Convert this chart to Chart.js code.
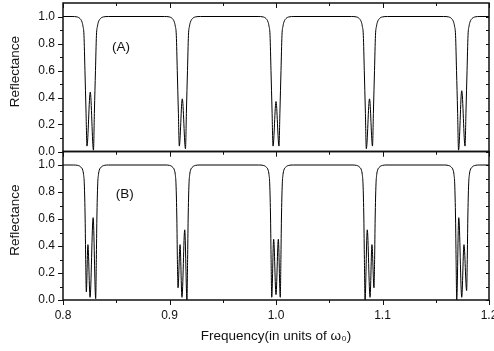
<!DOCTYPE html>
<html>
<head>
<meta charset="utf-8">
<title>Reflectance spectra</title>
<script src="https://cdn.jsdelivr.net/npm/chart.js@4.4.1/dist/chart.umd.min.js"></script>
<style>
  html, body { margin: 0; padding: 0; background: #fff; }
  #wrap { position: relative; width: 494px; height: 351px; }
</style>
</head>
<body>
<div id="wrap"><canvas id="reflChart"></canvas></div>
<script>
// Frequency (units of w0) and reflectance, one line per dip
const freqA = [
  0.8000,
  0.8085, 0.8131, 0.8159, 0.8178, 0.8187, 0.8197, 0.8206, 0.8216, 0.8225, 0.8256, 0.8286, 0.8295, 0.8305, 0.8314, 0.8324, 0.8333, 0.8352, 0.8380, 0.8426,
  0.8952, 0.8998, 0.9026, 0.9045, 0.9054, 0.9064, 0.9073, 0.9083, 0.9092, 0.9120, 0.9150, 0.9159, 0.9169, 0.9178, 0.9188, 0.9197, 0.9216, 0.9244, 0.9290,
  0.9832, 0.9878, 0.9906, 0.9925, 0.9934, 0.9944, 0.9953, 0.9963, 0.9972, 1.0000, 1.0028, 1.0037, 1.0047, 1.0056, 1.0066, 1.0075, 1.0094, 1.0122, 1.0168,
  1.0708, 1.0754, 1.0782, 1.0801, 1.0810, 1.0820, 1.0829, 1.0839, 1.0848, 1.0878, 1.0906, 1.0915, 1.0925, 1.0934, 1.0944, 1.0953, 1.0972, 1.1000, 1.1046,
  1.1574, 1.1620, 1.1648, 1.1667, 1.1676, 1.1686, 1.1695, 1.1705, 1.1714, 1.1744, 1.1775, 1.1784, 1.1794, 1.1803, 1.1813, 1.1822, 1.1841, 1.1869, 1.1915, 1.2000
];
const reflA = [
  1.0,
  1.0, 0.997, 0.985, 0.96, 0.93, 0.86, 0.6, 0.3, 0.04, 0.44, 0.01, 0.3, 0.6, 0.86, 0.93, 0.96, 0.985, 0.997, 1.0,
  1.0, 0.997, 0.985, 0.96, 0.93, 0.86, 0.6, 0.3, 0.04, 0.39, 0.02, 0.3, 0.6, 0.86, 0.93, 0.96, 0.985, 0.997, 1.0,
  1.0, 0.997, 0.985, 0.96, 0.93, 0.86, 0.6, 0.3, 0.04, 0.37, 0.04, 0.3, 0.6, 0.86, 0.93, 0.96, 0.985, 0.997, 1.0,
  1.0, 0.997, 0.985, 0.96, 0.93, 0.86, 0.6, 0.3, 0.02, 0.39, 0.04, 0.3, 0.6, 0.86, 0.93, 0.96, 0.985, 0.997, 1.0,
  1.0, 0.997, 0.985, 0.96, 0.93, 0.86, 0.6, 0.3, 0.01, 0.45, 0.04, 0.3, 0.6, 0.86, 0.93, 0.96, 0.985, 0.997, 1.0, 1.0
];
const freqB = [
  0.8000,
  0.8097, 0.8139, 0.8167, 0.8186, 0.8193, 0.8200, 0.8208, 0.8213, 0.8219, 0.8234, 0.8254, 0.8283, 0.8307, 0.8313, 0.8318, 0.8326, 0.8333, 0.8340, 0.8359, 0.8387, 0.8429,
  0.8958, 0.9000, 0.9028, 0.9047, 0.9054, 0.9061, 0.9069, 0.9074, 0.9080, 0.9099, 0.9117, 0.9143, 0.9164, 0.9170, 0.9175, 0.9183, 0.9190, 0.9197, 0.9216, 0.9244, 0.9286,
  0.9838, 0.9880, 0.9908, 0.9927, 0.9934, 0.9941, 0.9949, 0.9954, 0.9960, 0.9978, 1.0000, 1.0022, 1.0040, 1.0046, 1.0051, 1.0059, 1.0066, 1.0073, 1.0092, 1.0120, 1.0162,
  1.0714, 1.0756, 1.0784, 1.0803, 1.0810, 1.0817, 1.0825, 1.0830, 1.0836, 1.0857, 1.0883, 1.0901, 1.0920, 1.0926, 1.0931, 1.0939, 1.0946, 1.0953, 1.0972, 1.1000, 1.1042,
  1.1575, 1.1617, 1.1645, 1.1664, 1.1671, 1.1678, 1.1686, 1.1691, 1.1697, 1.1716, 1.1744, 1.1765, 1.1790, 1.1796, 1.1801, 1.1809, 1.1816, 1.1823, 1.1842, 1.1870, 1.1912, 1.2000
];
const reflB = [
  1.0,
  1.0, 0.997, 0.985, 0.96, 0.93, 0.86, 0.6, 0.3, 0.06, 0.41, 0.02, 0.61, 0.01, 0.3, 0.6, 0.86, 0.93, 0.96, 0.985, 0.997, 1.0,
  1.0, 0.997, 0.985, 0.96, 0.93, 0.86, 0.6, 0.3, 0.09, 0.41, 0.02, 0.52, 0.0, 0.3, 0.6, 0.86, 0.93, 0.96, 0.985, 0.997, 1.0,
  1.0, 0.997, 0.985, 0.96, 0.93, 0.86, 0.6, 0.3, 0.02, 0.45, 0.04, 0.45, 0.02, 0.3, 0.6, 0.86, 0.93, 0.96, 0.985, 0.997, 1.0,
  1.0, 0.997, 0.985, 0.96, 0.93, 0.86, 0.6, 0.3, 0.0, 0.52, 0.02, 0.41, 0.09, 0.3, 0.6, 0.86, 0.93, 0.96, 0.985, 0.997, 1.0,
  1.0, 0.997, 0.985, 0.96, 0.93, 0.86, 0.6, 0.3, 0.0, 0.61, 0.02, 0.41, 0.07, 0.3, 0.6, 0.86, 0.93, 0.96, 0.985, 0.997, 1.0, 1.0
];

const xTicks = [0.8, 0.9, 1.0, 1.1, 1.2];
const xMinorTicks = [0.85, 0.95, 1.05, 1.15];
const yTicks = [0, 0.2, 0.4, 0.6, 0.8, 1.0];
const yMinorTicks = [0.1, 0.3, 0.5, 0.7, 0.9];
const panelNames = ["(A)", "(B)"];

const FONT = "'Liberation Sans', Arial, sans-serif";
Chart.defaults.font.family = FONT;
Chart.defaults.color = "#111";

function toPoints(xs, ys) {
  return xs.map((x, i) => ({ x: x, y: ys[i] }));
}

// frame, in/out tick marks and the (A)/(B) tags
const frameTicks = {
  id: "frameTicks",
  afterDraw(chart) {
    const ctx = chart.ctx;
    const xs = chart.scales.x;
    const left = chart.chartArea.left;
    const right = chart.chartArea.right;
    const tagPos = { yA: [0.8545, 0.77], yB: [0.858, 0.785] };

    ctx.save();
    ["yA", "yB"].forEach((id, k) => {
      const ys = chart.scales[id];
      const top = ys.top;
      const bottom = ys.bottom;

      ctx.strokeStyle = "#111";
      ctx.lineWidth = 1;
      ctx.beginPath();
      yTicks.forEach((v) => {
        const p = Math.round(ys.getPixelForValue(v)) + 0.5;
        ctx.moveTo(left - 5, p);
        ctx.lineTo(left, p);
        ctx.moveTo(right, p);
        ctx.lineTo(right - 3, p);
      });
      yMinorTicks.forEach((v) => {
        const p = Math.round(ys.getPixelForValue(v)) + 0.5;
        ctx.moveTo(left - 3, p);
        ctx.lineTo(left, p);
        ctx.moveTo(right, p);
        ctx.lineTo(right - 3, p);
      });
      xTicks.forEach((v) => {
        const p = Math.round(xs.getPixelForValue(v)) + 0.5;
        ctx.moveTo(p, top);
        ctx.lineTo(p, top + 5);
        ctx.moveTo(p, bottom);
        ctx.lineTo(p, bottom + 5);
      });
      xMinorTicks.forEach((v) => {
        const p = Math.round(xs.getPixelForValue(v)) + 0.5;
        ctx.moveTo(p, top);
        ctx.lineTo(p, top + 3);
        ctx.moveTo(p, bottom);
        ctx.lineTo(p, bottom + 3);
      });
      ctx.stroke();

      ctx.lineWidth = 1.5;
      ctx.strokeRect(left, top, right - left, bottom - top);

      ctx.fillStyle = "#111";
      ctx.font = "13.5px " + FONT;
      ctx.textAlign = "center";
      ctx.textBaseline = "middle";
      ctx.fillText(
        panelNames[k],
        xs.getPixelForValue(tagPos[id][0]),
        ys.getPixelForValue(tagPos[id][1])
      );
    });
    ctx.restore();
  },
};

function yAxis() {
  return {
    type: "linear",
    position: "left",
    stack: "panels",
    stackWeight: 1,
    min: 0,
    max: 1.1,
    afterBuildTicks: (s) => {
      s.ticks = yTicks.map((v) => ({ value: v }));
    },
    afterFit: (s) => {
      s.width = 63;
      s.paddingTop = 0;
      s.paddingBottom = 0;
    },
    ticks: {
      autoSkip: false,
      padding: 3,
      font: { size: 12 },
      callback: (v) => Number(v).toFixed(1),
    },
    grid: { display: false, drawTicks: true, tickLength: 5 },
    border: { display: false },
    title: {
      display: true,
      // leading spaces nudge the rotated title up a little, like the original
      text: "   Reflectance",
      font: { size: 13.5 },
      padding: { top: 7, bottom: 0 },
    },
  };
}

new Chart(document.getElementById("reflChart"), {
  type: "line",
  data: {
    datasets: [
      {
        label: "A",
        data: toPoints(freqA, reflA),
        yAxisID: "yA",
        borderColor: "#000",
        borderWidth: 1,
        pointRadius: 0,
        fill: false,
        cubicInterpolationMode: "monotone",
      },
      {
        label: "B",
        data: toPoints(freqB, reflB),
        yAxisID: "yB",
        borderColor: "#000",
        borderWidth: 1,
        pointRadius: 0,
        fill: false,
        cubicInterpolationMode: "monotone",
      },
    ],
  },
  options: {
    responsive: true,
    maintainAspectRatio: false,
    animation: false,
    devicePixelRatio: 1,
    layout: { padding: { left: 0, right: 5, top: 3, bottom: 0 } },
    plugins: {
      legend: { display: false },
      tooltip: { enabled: false },
    },
    scales: {
      x: {
        type: "linear",
        min: 0.8,
        max: 1.2,
        afterBuildTicks: (s) => {
          s.ticks = xTicks.map((v) => ({ value: v }));
        },
        afterFit: (s) => {
          s.height = 51;
          s.paddingLeft = 0;
          s.paddingRight = 0;
        },
        ticks: {
          autoSkip: false,
          maxRotation: 0,
          padding: 3,
          font: { size: 12 },
          callback: (v) => Number(v).toFixed(1),
        },
        grid: { display: false, drawTicks: true, tickLength: 5 },
        border: { display: false },
        title: {
          display: true,
          text: "Frequency(in units of ω₀)",
          font: { size: 13.5 },
          padding: { top: 0, bottom: 7 },
        },
      },
      // stacked axes are laid out bottom-up, so panel B comes first
      yB: yAxis(),
      yA: yAxis(),
    },
  },
  plugins: [frameTicks],
});
</script>
</body>
</html>
